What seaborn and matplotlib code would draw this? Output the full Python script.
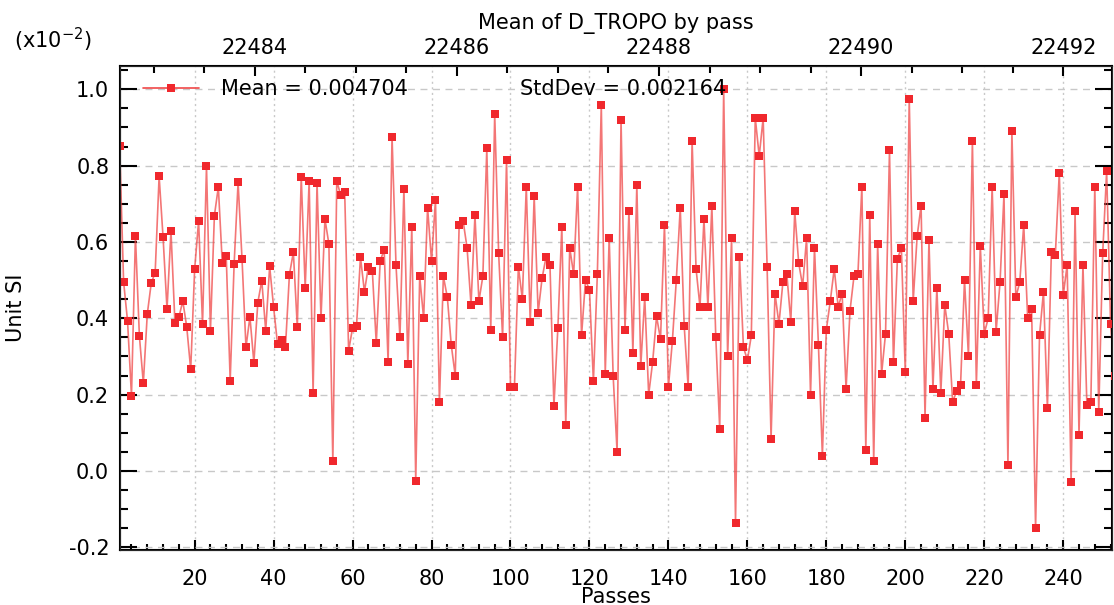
import numpy as np
import seaborn as sns
import matplotlib.pyplot as plt
from matplotlib.lines import Line2D
from matplotlib.ticker import MultipleLocator, StrMethodFormatter

# values of D_TROPO per pass, in units of 1e-2
passes = np.arange(1, 254)
d_tropo = [
    0.852, 0.496, 0.393, 0.197, 0.616, 0.354, 0.230, 0.411, 0.492, 0.520,
    0.772, 0.612, 0.424, 0.629, 0.389, 0.403, 0.445, 0.377, 0.266, 0.529,
    0.655, 0.385, 0.799, 0.368, 0.669, 0.744, 0.544, 0.562, 0.237, 0.543,
    0.756, 0.555, 0.324, 0.404, 0.284, 0.441, 0.499, 0.368, 0.536, 0.429,
    0.332, 0.342, 0.324, 0.514, 0.573, 0.378, 0.770, 0.480, 0.760, 0.205,
    0.755, 0.400, 0.660, 0.595, 0.025, 0.760, 0.722, 0.732, 0.315, 0.375,
    0.380, 0.560, 0.470, 0.535, 0.525, 0.335, 0.550, 0.580, 0.285, 0.875,
    0.540, 0.350, 0.740, 0.280, 0.640, -0.025, 0.510, 0.400, 0.690, 0.550,
    0.710, 0.180, 0.510, 0.455, 0.330, 0.250, 0.645, 0.655, 0.585, 0.435,
    0.670, 0.445, 0.510, 0.845, 0.370, 0.935, 0.570, 0.350, 0.815, 0.220,
    0.220, 0.535, 0.450, 0.745, 0.390, 0.720, 0.415, 0.505, 0.560, 0.540,
    0.170, 0.375, 0.640, 0.120, 0.585, 0.515, 0.745, 0.355, 0.500, 0.475,
    0.235, 0.515, 0.960, 0.255, 0.610, 0.250, 0.050, 0.920, 0.370, 0.680,
    0.310, 0.750, 0.275, 0.455, 0.200, 0.285, 0.405, 0.345, 0.645, 0.220,
    0.340, 0.500, 0.690, 0.380, 0.220, 0.865, 0.530, 0.430, 0.660, 0.430,
    0.695, 0.350, 0.110, 1.000, 0.300, 0.610, -0.135, 0.560, 0.325, 0.290,
    0.355, 0.925, 0.825, 0.925, 0.535, 0.085, 0.465, 0.385, 0.495, 0.515,
    0.390, 0.680, 0.545, 0.485, 0.610, 0.200, 0.585, 0.330, 0.040, 0.370,
    0.445, 0.530, 0.430, 0.465, 0.215, 0.420, 0.510, 0.515, 0.745, 0.055,
    0.670, 0.025, 0.595, 0.255, 0.360, 0.840, 0.285, 0.555, 0.585, 0.260,
    0.975, 0.445, 0.615, 0.695, 0.140, 0.605, 0.215, 0.480, 0.205, 0.435,
    0.360, 0.180, 0.210, 0.225, 0.500, 0.300, 0.865, 0.225, 0.590, 0.360,
    0.400, 0.745, 0.365, 0.495, 0.725, 0.015, 0.890, 0.455, 0.495, 0.645,
    0.400, 0.425, -0.150, 0.355, 0.470, 0.165, 0.575, 0.565, 0.780, 0.460,
    0.540, -0.030, 0.680, 0.095, 0.540, 0.172, 0.180, 0.745, 0.155, 0.570,
    0.785, 0.385, 0.250,
]
cycle_range = (22482.67, 22492.48)
mean_label = 'Mean = 0.004704'
std_label = 'StdDev = 0.002164'

line_color = '#f04848'
marker_color = '#f0282d'
grid_color = '#c8c8c8'

sns.set_style('ticks')
plt.rcParams['font.family'] = ['DejaVu Sans']
plt.rcParams['axes.unicode_minus'] = False
plt.rcParams['text.color'] = 'black'
plt.rcParams['axes.labelcolor'] = 'black'
plt.rcParams['xtick.color'] = 'black'
plt.rcParams['ytick.color'] = 'black'

fig = plt.figure(figsize=(11.14, 6.05), dpi=100)
ax = fig.add_axes([0.108, 0.0909, 0.890, 0.800])

sns.lineplot(x=passes, y=d_tropo, ax=ax, color=line_color, alpha=0.75,
             linewidth=1.2, zorder=2)
sns.scatterplot(x=passes, y=d_tropo, ax=ax, marker='s', s=30,
                color=marker_color, linewidth=0, zorder=3)

ax.set_xlim(1.17, 252.3)
ax.set_ylim(-0.207, 1.061)
ax.set_axisbelow(True)

ax.xaxis.set_major_locator(MultipleLocator(20))
ax.xaxis.set_minor_locator(MultipleLocator(4))
ax.yaxis.set_major_locator(MultipleLocator(0.2))
ax.yaxis.set_minor_locator(MultipleLocator(0.05))
ax.yaxis.set_major_formatter(StrMethodFormatter('{x:.1f}'))

ax.grid(axis='y', which='major', color=grid_color, lw=1, ls=(0, (5, 4)))
ax.grid(axis='x', which='major', color=grid_color, lw=1, ls=(0, (1.5, 2.5)))

ax.tick_params(axis='both', which='both', direction='in', width=1.5,
               labelsize=15, right=True, top=False, colors='black')
ax.tick_params(axis='y', which='major', length=12, pad=8)
ax.tick_params(axis='y', which='minor', length=6)
ax.tick_params(axis='x', which='major', length=7, pad=14)
ax.tick_params(axis='x', which='minor', length=4)
for s in ax.spines.values():
    s.set_linewidth(1.5)
    s.set_color('black')

# top axis: cycle numbers
ax2 = ax.twiny()
ax2.set_xlim(*cycle_range)
ax2.xaxis.set_major_locator(MultipleLocator(2))
ax2.xaxis.set_minor_locator(MultipleLocator(0.5))
ax2.xaxis.set_major_formatter(StrMethodFormatter('{x:.0f}'))
ax2.tick_params(axis='x', which='both', direction='in', width=1.5,
                labelsize=15, colors='black')
ax2.tick_params(axis='x', which='major', length=7, pad=6)
ax2.tick_params(axis='x', which='minor', length=5)
ax2.set_title('Mean of D_TROPO by pass', fontsize=15, pad=6)

ax.set_xlabel('Passes', fontsize=15)
ax.set_ylabel('Unit SI', fontsize=15)
ax.xaxis.set_label_coords(0.5, -0.076)
ax.yaxis.set_label_coords(-0.095, 0.5)

fig.text(0.013, 0.934, r'(x10$^{-2}$)', fontsize=15, ha='left', va='center')

handle = Line2D([], [], color=line_color, lw=1.2, marker='s', markersize=5.5,
                markerfacecolor=marker_color, markeredgewidth=0)
y_ref = (1.0 - (-0.207)) / (1.061 - (-0.207))
ax.legend([handle], [mean_label], loc='center left', frameon=False,
          bbox_to_anchor=(0.023, y_ref), borderpad=0, borderaxespad=0,
          handlelength=2.7, handletextpad=1.05, fontsize=15)
ax.text(0.403, 1.0, std_label, transform=ax.get_yaxis_transform(),
        fontsize=15, ha='left', va='center')

fig.savefig('out.png', dpi=100)
